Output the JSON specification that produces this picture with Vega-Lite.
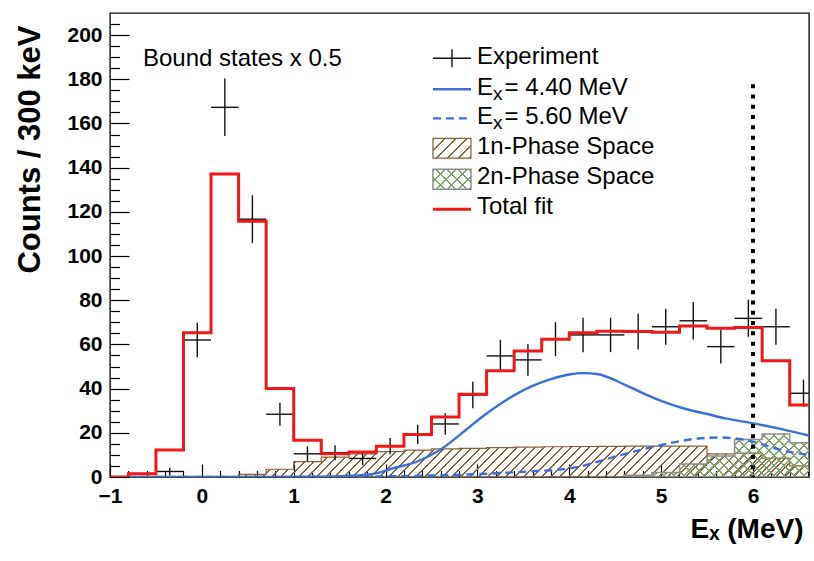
{
  "$schema": "https://vega.github.io/schema/vega-lite/v6.json",
  "width": 699,
  "height": 464,
  "autosize": {"type": "none"},
  "padding": {"left": 110, "top": 13, "right": 5, "bottom": 84},
  "background": "#ffffff",
  "config": {
    "font": "Liberation Sans",
    "view": {"stroke": "#111111", "strokeWidth": 1.4},
    "axis": {"grid": false, "domain": false, "labelColor": "#000000", "tickColor": "#000000", "titleColor": "#000000", "tickWidth": 1.2},
    "text": {"font": "Liberation Sans", "fontSize": 24, "color": "#000000", "align": "left", "baseline": "alphabetic"}
  },
  "datasets": {
    "fit": [
      {"e": -1.1, "n": 0}, {"e": -0.8, "n": 1.5}, {"e": -0.5, "n": 12.2}, {"e": -0.2, "n": 65.3},
      {"e": 0.1, "n": 137.1}, {"e": 0.4, "n": 115.8}, {"e": 0.7, "n": 40.1}, {"e": 1.0, "n": 16.6},
      {"e": 1.3, "n": 10.5}, {"e": 1.6, "n": 11.3}, {"e": 1.9, "n": 13.9}, {"e": 2.2, "n": 19.2},
      {"e": 2.5, "n": 27.1}, {"e": 2.8, "n": 37.4}, {"e": 3.1, "n": 48.1}, {"e": 3.4, "n": 57.0},
      {"e": 3.7, "n": 62.3}, {"e": 4.0, "n": 65.3}, {"e": 4.3, "n": 66.0}, {"e": 4.6, "n": 65.8},
      {"e": 4.9, "n": 65.5}, {"e": 5.2, "n": 68.3}, {"e": 5.5, "n": 67.3}, {"e": 5.8, "n": 67.7},
      {"e": 6.1, "n": 52.6}, {"e": 6.4, "n": 32.6}, {"e": 6.7, "n": 32.6}
    ],
    "ps1": [
      {"e": 0.4, "n": 1.2}, {"e": 0.7, "n": 3.5}, {"e": 1.0, "n": 7.0}, {"e": 1.3, "n": 9.0},
      {"e": 1.6, "n": 10.5}, {"e": 1.9, "n": 11.5}, {"e": 2.2, "n": 12.2}, {"e": 2.5, "n": 12.7},
      {"e": 2.8, "n": 13.0}, {"e": 3.1, "n": 13.3}, {"e": 3.4, "n": 13.5}, {"e": 3.7, "n": 13.7},
      {"e": 4.0, "n": 13.8}, {"e": 4.3, "n": 13.9}, {"e": 4.6, "n": 14.0}, {"e": 4.9, "n": 14.0},
      {"e": 5.2, "n": 14.0}, {"e": 5.5, "n": 10.5}, {"e": 5.8, "n": 10.8}, {"e": 6.1, "n": 8.5},
      {"e": 6.4, "n": 5.0}, {"e": 6.7, "n": 5.0}
    ],
    "ps2": [
      {"e": 4.6, "n": 0.8}, {"e": 4.9, "n": 2.0}, {"e": 5.2, "n": 5.9}, {"e": 5.5, "n": 9.5},
      {"e": 5.8, "n": 17.0}, {"e": 6.1, "n": 19.5}, {"e": 6.4, "n": 15.5}, {"e": 6.7, "n": 15.5}
    ],
    "res440": [
      {"e": -0.8, "n": 0}, {"e": 0.2, "n": 0.01}, {"e": 0.8, "n": 0.05}, {"e": 1.2, "n": 0.15},
      {"e": 1.5, "n": 0.4}, {"e": 1.8, "n": 1.0}, {"e": 1.95, "n": 2.2}, {"e": 2.08, "n": 3.9},
      {"e": 2.34, "n": 6.9}, {"e": 2.59, "n": 12.2}, {"e": 2.88, "n": 21.5}, {"e": 3.06, "n": 27.5},
      {"e": 3.32, "n": 35.0}, {"e": 3.57, "n": 40.7}, {"e": 3.8, "n": 44.3}, {"e": 4.0, "n": 46.4},
      {"e": 4.15, "n": 47.0}, {"e": 4.3, "n": 46.6}, {"e": 4.62, "n": 41.5}, {"e": 4.8, "n": 38.0},
      {"e": 5.0, "n": 34.5}, {"e": 5.25, "n": 31.0}, {"e": 5.5, "n": 28.5}, {"e": 5.7, "n": 26.5},
      {"e": 6.0, "n": 24.3}, {"e": 6.3, "n": 21.8}, {"e": 6.61, "n": 18.8}
    ],
    "res560": [
      {"e": -0.8, "n": 0}, {"e": 0.5, "n": 0.01}, {"e": 1.5, "n": 0.05}, {"e": 2.0, "n": 0.3},
      {"e": 2.5, "n": 0.7}, {"e": 3.0, "n": 1.3}, {"e": 3.25, "n": 1.8}, {"e": 3.6, "n": 2.6},
      {"e": 3.9, "n": 3.4}, {"e": 4.1, "n": 4.6}, {"e": 4.3, "n": 6.8}, {"e": 4.48, "n": 9.0},
      {"e": 4.77, "n": 12.2}, {"e": 5.06, "n": 15.0}, {"e": 5.24, "n": 16.5}, {"e": 5.5, "n": 17.7},
      {"e": 5.65, "n": 17.9}, {"e": 5.85, "n": 17.2}, {"e": 6.0, "n": 16.0}, {"e": 6.15, "n": 14.2},
      {"e": 6.29, "n": 12.4}, {"e": 6.45, "n": 11.0}, {"e": 6.61, "n": 10.0}
    ],
    "exp": [
      {"e": -0.35, "lo_e": -0.5, "hi_e": -0.2, "n": 2.5, "err": 1.7},
      {"e": -0.05, "lo_e": -0.2, "hi_e": 0.1, "n": 62.0, "err": 7.8},
      {"e": 0.25, "lo_e": 0.1, "hi_e": 0.4, "n": 167.3, "err": 13.0},
      {"e": 0.55, "lo_e": 0.4, "hi_e": 0.7, "n": 116.7, "err": 10.8},
      {"e": 0.85, "lo_e": 0.7, "hi_e": 1.0, "n": 28.4, "err": 5.2},
      {"e": 1.15, "lo_e": 1.0, "hi_e": 1.3, "n": 10.5, "err": 3.4},
      {"e": 1.45, "lo_e": 1.3, "hi_e": 1.6, "n": 11.0, "err": 3.4},
      {"e": 1.75, "lo_e": 1.6, "hi_e": 1.9, "n": 8.4, "err": 3.0},
      {"e": 2.05, "lo_e": 1.9, "hi_e": 2.2, "n": 14.0, "err": 3.7},
      {"e": 2.35, "lo_e": 2.2, "hi_e": 2.5, "n": 19.3, "err": 4.4},
      {"e": 2.65, "lo_e": 2.5, "hi_e": 2.8, "n": 24.0, "err": 4.9},
      {"e": 2.95, "lo_e": 2.8, "hi_e": 3.1, "n": 37.1, "err": 6.0},
      {"e": 3.25, "lo_e": 3.1, "hi_e": 3.4, "n": 54.8, "err": 7.3},
      {"e": 3.55, "lo_e": 3.4, "hi_e": 3.7, "n": 53.0, "err": 7.2},
      {"e": 3.85, "lo_e": 3.7, "hi_e": 4.0, "n": 62.4, "err": 7.7},
      {"e": 4.15, "lo_e": 4.0, "hi_e": 4.3, "n": 64.3, "err": 7.8},
      {"e": 4.45, "lo_e": 4.3, "hi_e": 4.6, "n": 64.3, "err": 7.8},
      {"e": 4.75, "lo_e": 4.6, "hi_e": 4.9, "n": 65.8, "err": 8.1},
      {"e": 5.05, "lo_e": 4.9, "hi_e": 5.2, "n": 68.0, "err": 8.2},
      {"e": 5.35, "lo_e": 5.2, "hi_e": 5.5, "n": 70.7, "err": 8.5},
      {"e": 5.65, "lo_e": 5.5, "hi_e": 5.8, "n": 59.0, "err": 7.6},
      {"e": 5.95, "lo_e": 5.8, "hi_e": 6.1, "n": 71.8, "err": 8.4},
      {"e": 6.25, "lo_e": 6.1, "hi_e": 6.4, "n": 68.0, "err": 8.2},
      {"e": 6.55, "lo_e": 6.4, "hi_e": 6.7, "n": 37.9, "err": 6.2}
    ]
  },
  "resolve": {"axis": {"x": "independent", "y": "independent"}},
  "layer": [
    {
      "data": {"name": "ps1"},
      "mark": {
        "type": "area", "interpolate": "step-after", "clip": true, "fillOpacity": 1,
        "stroke": "#8a6038", "strokeWidth": 1.2,
        "fill": {
          "gradient": "linear", "x1": 0, "y1": 0, "x2": 1.2406, "y2": 0.0663,
          "stops": [
            {"offset": 0, "color": "#8a6038"}, {"offset": 0.003, "color": "#8a6038"}, {"offset": 0.003, "color": "transparent"},
            {"offset": 0.0125, "color": "transparent"}, {"offset": 0.0125, "color": "#8a6038"}, {"offset": 0.0155, "color": "#8a6038"}, {"offset": 0.0155, "color": "transparent"},
            {"offset": 0.025, "color": "transparent"}, {"offset": 0.025, "color": "#8a6038"}, {"offset": 0.028, "color": "#8a6038"}, {"offset": 0.028, "color": "transparent"},
            {"offset": 0.0375, "color": "transparent"}, {"offset": 0.0375, "color": "#8a6038"}, {"offset": 0.0405, "color": "#8a6038"}, {"offset": 0.0405, "color": "transparent"},
            {"offset": 0.05, "color": "transparent"}, {"offset": 0.05, "color": "#8a6038"}, {"offset": 0.053, "color": "#8a6038"}, {"offset": 0.053, "color": "transparent"},
            {"offset": 0.0625, "color": "transparent"}, {"offset": 0.0625, "color": "#8a6038"}, {"offset": 0.0655, "color": "#8a6038"}, {"offset": 0.0655, "color": "transparent"},
            {"offset": 0.075, "color": "transparent"}, {"offset": 0.075, "color": "#8a6038"}, {"offset": 0.078, "color": "#8a6038"}, {"offset": 0.078, "color": "transparent"},
            {"offset": 0.0875, "color": "transparent"}, {"offset": 0.0875, "color": "#8a6038"}, {"offset": 0.0905, "color": "#8a6038"}, {"offset": 0.0905, "color": "transparent"},
            {"offset": 0.1, "color": "transparent"}, {"offset": 0.1, "color": "#8a6038"}, {"offset": 0.103, "color": "#8a6038"}, {"offset": 0.103, "color": "transparent"},
            {"offset": 0.1125, "color": "transparent"}, {"offset": 0.1125, "color": "#8a6038"}, {"offset": 0.1155, "color": "#8a6038"}, {"offset": 0.1155, "color": "transparent"},
            {"offset": 0.125, "color": "transparent"}, {"offset": 0.125, "color": "#8a6038"}, {"offset": 0.128, "color": "#8a6038"}, {"offset": 0.128, "color": "transparent"},
            {"offset": 0.1375, "color": "transparent"}, {"offset": 0.1375, "color": "#8a6038"}, {"offset": 0.1405, "color": "#8a6038"}, {"offset": 0.1405, "color": "transparent"},
            {"offset": 0.15, "color": "transparent"}, {"offset": 0.15, "color": "#8a6038"}, {"offset": 0.153, "color": "#8a6038"}, {"offset": 0.153, "color": "transparent"},
            {"offset": 0.1625, "color": "transparent"}, {"offset": 0.1625, "color": "#8a6038"}, {"offset": 0.1655, "color": "#8a6038"}, {"offset": 0.1655, "color": "transparent"},
            {"offset": 0.175, "color": "transparent"}, {"offset": 0.175, "color": "#8a6038"}, {"offset": 0.178, "color": "#8a6038"}, {"offset": 0.178, "color": "transparent"},
            {"offset": 0.1875, "color": "transparent"}, {"offset": 0.1875, "color": "#8a6038"}, {"offset": 0.1905, "color": "#8a6038"}, {"offset": 0.1905, "color": "transparent"},
            {"offset": 0.2, "color": "transparent"}, {"offset": 0.2, "color": "#8a6038"}, {"offset": 0.203, "color": "#8a6038"}, {"offset": 0.203, "color": "transparent"},
            {"offset": 0.2125, "color": "transparent"}, {"offset": 0.2125, "color": "#8a6038"}, {"offset": 0.2155, "color": "#8a6038"}, {"offset": 0.2155, "color": "transparent"},
            {"offset": 0.225, "color": "transparent"}, {"offset": 0.225, "color": "#8a6038"}, {"offset": 0.228, "color": "#8a6038"}, {"offset": 0.228, "color": "transparent"},
            {"offset": 0.2375, "color": "transparent"}, {"offset": 0.2375, "color": "#8a6038"}, {"offset": 0.2405, "color": "#8a6038"}, {"offset": 0.2405, "color": "transparent"},
            {"offset": 0.25, "color": "transparent"}, {"offset": 0.25, "color": "#8a6038"}, {"offset": 0.253, "color": "#8a6038"}, {"offset": 0.253, "color": "transparent"},
            {"offset": 0.2625, "color": "transparent"}, {"offset": 0.2625, "color": "#8a6038"}, {"offset": 0.2655, "color": "#8a6038"}, {"offset": 0.2655, "color": "transparent"},
            {"offset": 0.275, "color": "transparent"}, {"offset": 0.275, "color": "#8a6038"}, {"offset": 0.278, "color": "#8a6038"}, {"offset": 0.278, "color": "transparent"},
            {"offset": 0.2875, "color": "transparent"}, {"offset": 0.2875, "color": "#8a6038"}, {"offset": 0.2905, "color": "#8a6038"}, {"offset": 0.2905, "color": "transparent"},
            {"offset": 0.3, "color": "transparent"}, {"offset": 0.3, "color": "#8a6038"}, {"offset": 0.303, "color": "#8a6038"}, {"offset": 0.303, "color": "transparent"},
            {"offset": 0.3125, "color": "transparent"}, {"offset": 0.3125, "color": "#8a6038"}, {"offset": 0.3155, "color": "#8a6038"}, {"offset": 0.3155, "color": "transparent"},
            {"offset": 0.325, "color": "transparent"}, {"offset": 0.325, "color": "#8a6038"}, {"offset": 0.328, "color": "#8a6038"}, {"offset": 0.328, "color": "transparent"},
            {"offset": 0.3375, "color": "transparent"}, {"offset": 0.3375, "color": "#8a6038"}, {"offset": 0.3405, "color": "#8a6038"}, {"offset": 0.3405, "color": "transparent"},
            {"offset": 0.35, "color": "transparent"}, {"offset": 0.35, "color": "#8a6038"}, {"offset": 0.353, "color": "#8a6038"}, {"offset": 0.353, "color": "transparent"},
            {"offset": 0.3625, "color": "transparent"}, {"offset": 0.3625, "color": "#8a6038"}, {"offset": 0.3655, "color": "#8a6038"}, {"offset": 0.3655, "color": "transparent"},
            {"offset": 0.375, "color": "transparent"}, {"offset": 0.375, "color": "#8a6038"}, {"offset": 0.378, "color": "#8a6038"}, {"offset": 0.378, "color": "transparent"},
            {"offset": 0.3875, "color": "transparent"}, {"offset": 0.3875, "color": "#8a6038"}, {"offset": 0.3905, "color": "#8a6038"}, {"offset": 0.3905, "color": "transparent"},
            {"offset": 0.4, "color": "transparent"}, {"offset": 0.4, "color": "#8a6038"}, {"offset": 0.403, "color": "#8a6038"}, {"offset": 0.403, "color": "transparent"},
            {"offset": 0.4125, "color": "transparent"}, {"offset": 0.4125, "color": "#8a6038"}, {"offset": 0.4155, "color": "#8a6038"}, {"offset": 0.4155, "color": "transparent"},
            {"offset": 0.425, "color": "transparent"}, {"offset": 0.425, "color": "#8a6038"}, {"offset": 0.428, "color": "#8a6038"}, {"offset": 0.428, "color": "transparent"},
            {"offset": 0.4375, "color": "transparent"}, {"offset": 0.4375, "color": "#8a6038"}, {"offset": 0.4405, "color": "#8a6038"}, {"offset": 0.4405, "color": "transparent"},
            {"offset": 0.45, "color": "transparent"}, {"offset": 0.45, "color": "#8a6038"}, {"offset": 0.453, "color": "#8a6038"}, {"offset": 0.453, "color": "transparent"},
            {"offset": 0.4625, "color": "transparent"}, {"offset": 0.4625, "color": "#8a6038"}, {"offset": 0.4655, "color": "#8a6038"}, {"offset": 0.4655, "color": "transparent"},
            {"offset": 0.475, "color": "transparent"}, {"offset": 0.475, "color": "#8a6038"}, {"offset": 0.478, "color": "#8a6038"}, {"offset": 0.478, "color": "transparent"},
            {"offset": 0.4875, "color": "transparent"}, {"offset": 0.4875, "color": "#8a6038"}, {"offset": 0.4905, "color": "#8a6038"}, {"offset": 0.4905, "color": "transparent"},
            {"offset": 0.5, "color": "transparent"}, {"offset": 0.5, "color": "#8a6038"}, {"offset": 0.503, "color": "#8a6038"}, {"offset": 0.503, "color": "transparent"},
            {"offset": 0.5125, "color": "transparent"}, {"offset": 0.5125, "color": "#8a6038"}, {"offset": 0.5155, "color": "#8a6038"}, {"offset": 0.5155, "color": "transparent"},
            {"offset": 0.525, "color": "transparent"}, {"offset": 0.525, "color": "#8a6038"}, {"offset": 0.528, "color": "#8a6038"}, {"offset": 0.528, "color": "transparent"},
            {"offset": 0.5375, "color": "transparent"}, {"offset": 0.5375, "color": "#8a6038"}, {"offset": 0.5405, "color": "#8a6038"}, {"offset": 0.5405, "color": "transparent"},
            {"offset": 0.55, "color": "transparent"}, {"offset": 0.55, "color": "#8a6038"}, {"offset": 0.553, "color": "#8a6038"}, {"offset": 0.553, "color": "transparent"},
            {"offset": 0.5625, "color": "transparent"}, {"offset": 0.5625, "color": "#8a6038"}, {"offset": 0.5655, "color": "#8a6038"}, {"offset": 0.5655, "color": "transparent"},
            {"offset": 0.575, "color": "transparent"}, {"offset": 0.575, "color": "#8a6038"}, {"offset": 0.578, "color": "#8a6038"}, {"offset": 0.578, "color": "transparent"},
            {"offset": 0.5875, "color": "transparent"}, {"offset": 0.5875, "color": "#8a6038"}, {"offset": 0.5905, "color": "#8a6038"}, {"offset": 0.5905, "color": "transparent"},
            {"offset": 0.6, "color": "transparent"}, {"offset": 0.6, "color": "#8a6038"}, {"offset": 0.603, "color": "#8a6038"}, {"offset": 0.603, "color": "transparent"},
            {"offset": 0.6125, "color": "transparent"}, {"offset": 0.6125, "color": "#8a6038"}, {"offset": 0.6155, "color": "#8a6038"}, {"offset": 0.6155, "color": "transparent"},
            {"offset": 0.625, "color": "transparent"}, {"offset": 0.625, "color": "#8a6038"}, {"offset": 0.628, "color": "#8a6038"}, {"offset": 0.628, "color": "transparent"},
            {"offset": 0.6375, "color": "transparent"}, {"offset": 0.6375, "color": "#8a6038"}, {"offset": 0.6405, "color": "#8a6038"}, {"offset": 0.6405, "color": "transparent"},
            {"offset": 0.65, "color": "transparent"}, {"offset": 0.65, "color": "#8a6038"}, {"offset": 0.653, "color": "#8a6038"}, {"offset": 0.653, "color": "transparent"},
            {"offset": 0.6625, "color": "transparent"}, {"offset": 0.6625, "color": "#8a6038"}, {"offset": 0.6655, "color": "#8a6038"}, {"offset": 0.6655, "color": "transparent"},
            {"offset": 0.675, "color": "transparent"}, {"offset": 0.675, "color": "#8a6038"}, {"offset": 0.678, "color": "#8a6038"}, {"offset": 0.678, "color": "transparent"},
            {"offset": 0.6875, "color": "transparent"}, {"offset": 0.6875, "color": "#8a6038"}, {"offset": 0.6905, "color": "#8a6038"}, {"offset": 0.6905, "color": "transparent"},
            {"offset": 0.7, "color": "transparent"}, {"offset": 0.7, "color": "#8a6038"}, {"offset": 0.703, "color": "#8a6038"}, {"offset": 0.703, "color": "transparent"},
            {"offset": 0.7125, "color": "transparent"}, {"offset": 0.7125, "color": "#8a6038"}, {"offset": 0.7155, "color": "#8a6038"}, {"offset": 0.7155, "color": "transparent"},
            {"offset": 0.725, "color": "transparent"}, {"offset": 0.725, "color": "#8a6038"}, {"offset": 0.728, "color": "#8a6038"}, {"offset": 0.728, "color": "transparent"},
            {"offset": 0.7375, "color": "transparent"}, {"offset": 0.7375, "color": "#8a6038"}, {"offset": 0.7405, "color": "#8a6038"}, {"offset": 0.7405, "color": "transparent"},
            {"offset": 0.75, "color": "transparent"}, {"offset": 0.75, "color": "#8a6038"}, {"offset": 0.753, "color": "#8a6038"}, {"offset": 0.753, "color": "transparent"},
            {"offset": 0.7625, "color": "transparent"}, {"offset": 0.7625, "color": "#8a6038"}, {"offset": 0.7655, "color": "#8a6038"}, {"offset": 0.7655, "color": "transparent"},
            {"offset": 0.775, "color": "transparent"}, {"offset": 0.775, "color": "#8a6038"}, {"offset": 0.778, "color": "#8a6038"}, {"offset": 0.778, "color": "transparent"},
            {"offset": 0.7875, "color": "transparent"}, {"offset": 0.7875, "color": "#8a6038"}, {"offset": 0.7905, "color": "#8a6038"}, {"offset": 0.7905, "color": "transparent"},
            {"offset": 0.8, "color": "transparent"}, {"offset": 0.8, "color": "#8a6038"}, {"offset": 0.803, "color": "#8a6038"}, {"offset": 0.803, "color": "transparent"},
            {"offset": 0.8125, "color": "transparent"}, {"offset": 0.8125, "color": "#8a6038"}, {"offset": 0.8155, "color": "#8a6038"}, {"offset": 0.8155, "color": "transparent"},
            {"offset": 0.825, "color": "transparent"}, {"offset": 0.825, "color": "#8a6038"}, {"offset": 0.828, "color": "#8a6038"}, {"offset": 0.828, "color": "transparent"},
            {"offset": 0.8375, "color": "transparent"}, {"offset": 0.8375, "color": "#8a6038"}, {"offset": 0.8405, "color": "#8a6038"}, {"offset": 0.8405, "color": "transparent"},
            {"offset": 0.85, "color": "transparent"}, {"offset": 0.85, "color": "#8a6038"}, {"offset": 0.853, "color": "#8a6038"}, {"offset": 0.853, "color": "transparent"},
            {"offset": 1, "color": "transparent"}
          ]
        }
      },
      "encoding": {
        "x": {
          "field": "e", "type": "quantitative",
          "scale": {"domain": [-1, 6.61], "nice": false, "zero": false},
          "axis": {
            "orient": "bottom", "values": [-1, 0, 1, 2, 3, 4, 5, 6], "ticks": false,
            "labelFontSize": 21, "labelFontWeight": "bold", "labelPadding": 8, "labelFlush": false,
            "labelOverlap": false, "labelBaseline": "top",
            "title": "Eₓ (MeV)", "titleFontSize": 28, "titleFontWeight": "bold",
            "titleAlign": "right", "titleAnchor": "end", "titleBaseline": "alphabetic",
            "titleX": 693, "titleY": 60
          }
        },
        "y": {
          "field": "n", "type": "quantitative",
          "scale": {"domain": [0, 210], "nice": false, "zero": false},
          "axis": {
            "orient": "left", "values": [0, 20, 40, 60, 80, 100, 120, 140, 160, 180, 200], "ticks": false,
            "labelFontSize": 21, "labelFontWeight": "bold", "labelPadding": 8, "labelOverlap": false,
            "title": "Counts / 300 keV", "titleFontSize": 31, "titleFontWeight": "bold",
            "titleAngle": -90, "titleAlign": "right", "titleAnchor": "end", "titleBaseline": "alphabetic",
            "titleX": -71, "titleY": 12
          }
        }
      }
    },
    {
      "data": {"name": "ps2"},
      "mark": {
        "type": "area", "interpolate": "step-after", "clip": true, "fillOpacity": 1,
        "fill": {
          "gradient": "linear", "x1": 0, "y1": 0, "x2": 1.2344, "y2": 0.2757,
          "stops": [
            {"offset": 0, "color": "#7da36a"}, {"offset": 0.009, "color": "#7da36a"}, {"offset": 0.009, "color": "transparent"},
            {"offset": 0.04, "color": "transparent"}, {"offset": 0.04, "color": "#7da36a"}, {"offset": 0.049, "color": "#7da36a"}, {"offset": 0.049, "color": "transparent"},
            {"offset": 0.08, "color": "transparent"}, {"offset": 0.08, "color": "#7da36a"}, {"offset": 0.089, "color": "#7da36a"}, {"offset": 0.089, "color": "transparent"},
            {"offset": 0.12, "color": "transparent"}, {"offset": 0.12, "color": "#7da36a"}, {"offset": 0.129, "color": "#7da36a"}, {"offset": 0.129, "color": "transparent"},
            {"offset": 0.16, "color": "transparent"}, {"offset": 0.16, "color": "#7da36a"}, {"offset": 0.169, "color": "#7da36a"}, {"offset": 0.169, "color": "transparent"},
            {"offset": 0.2, "color": "transparent"}, {"offset": 0.2, "color": "#7da36a"}, {"offset": 0.209, "color": "#7da36a"}, {"offset": 0.209, "color": "transparent"},
            {"offset": 0.24, "color": "transparent"}, {"offset": 0.24, "color": "#7da36a"}, {"offset": 0.249, "color": "#7da36a"}, {"offset": 0.249, "color": "transparent"},
            {"offset": 0.28, "color": "transparent"}, {"offset": 0.28, "color": "#7da36a"}, {"offset": 0.289, "color": "#7da36a"}, {"offset": 0.289, "color": "transparent"},
            {"offset": 0.32, "color": "transparent"}, {"offset": 0.32, "color": "#7da36a"}, {"offset": 0.329, "color": "#7da36a"}, {"offset": 0.329, "color": "transparent"},
            {"offset": 0.36, "color": "transparent"}, {"offset": 0.36, "color": "#7da36a"}, {"offset": 0.369, "color": "#7da36a"}, {"offset": 0.369, "color": "transparent"},
            {"offset": 0.4, "color": "transparent"}, {"offset": 0.4, "color": "#7da36a"}, {"offset": 0.409, "color": "#7da36a"}, {"offset": 0.409, "color": "transparent"},
            {"offset": 0.44, "color": "transparent"}, {"offset": 0.44, "color": "#7da36a"}, {"offset": 0.449, "color": "#7da36a"}, {"offset": 0.449, "color": "transparent"},
            {"offset": 0.48, "color": "transparent"}, {"offset": 0.48, "color": "#7da36a"}, {"offset": 0.489, "color": "#7da36a"}, {"offset": 0.489, "color": "transparent"},
            {"offset": 0.52, "color": "transparent"}, {"offset": 0.52, "color": "#7da36a"}, {"offset": 0.529, "color": "#7da36a"}, {"offset": 0.529, "color": "transparent"},
            {"offset": 0.56, "color": "transparent"}, {"offset": 0.56, "color": "#7da36a"}, {"offset": 0.569, "color": "#7da36a"}, {"offset": 0.569, "color": "transparent"},
            {"offset": 0.6, "color": "transparent"}, {"offset": 0.6, "color": "#7da36a"}, {"offset": 0.609, "color": "#7da36a"}, {"offset": 0.609, "color": "transparent"},
            {"offset": 0.64, "color": "transparent"}, {"offset": 0.64, "color": "#7da36a"}, {"offset": 0.649, "color": "#7da36a"}, {"offset": 0.649, "color": "transparent"},
            {"offset": 0.68, "color": "transparent"}, {"offset": 0.68, "color": "#7da36a"}, {"offset": 0.689, "color": "#7da36a"}, {"offset": 0.689, "color": "transparent"},
            {"offset": 0.72, "color": "transparent"}, {"offset": 0.72, "color": "#7da36a"}, {"offset": 0.729, "color": "#7da36a"}, {"offset": 0.729, "color": "transparent"},
            {"offset": 0.76, "color": "transparent"}, {"offset": 0.76, "color": "#7da36a"}, {"offset": 0.769, "color": "#7da36a"}, {"offset": 0.769, "color": "transparent"},
            {"offset": 0.8, "color": "transparent"}, {"offset": 0.8, "color": "#7da36a"}, {"offset": 0.809, "color": "#7da36a"}, {"offset": 0.809, "color": "transparent"},
            {"offset": 0.84, "color": "transparent"}, {"offset": 0.84, "color": "#7da36a"}, {"offset": 0.849, "color": "#7da36a"}, {"offset": 0.849, "color": "transparent"},
            {"offset": 0.88, "color": "transparent"}, {"offset": 0.88, "color": "#7da36a"}, {"offset": 0.889, "color": "#7da36a"}, {"offset": 0.889, "color": "transparent"},
            {"offset": 0.92, "color": "transparent"}, {"offset": 0.92, "color": "#7da36a"}, {"offset": 0.929, "color": "#7da36a"}, {"offset": 0.929, "color": "transparent"},
            {"offset": 1, "color": "transparent"}
          ]
        }
      },
      "encoding": {
        "x": {
          "field": "e", "type": "quantitative",
          "axis": {"orient": "bottom", "values": [-1, 0, 1, 2, 3, 4, 5, 6], "labels": false, "ticks": true, "tickSize": -13, "title": null}
        },
        "y": {
          "field": "n", "type": "quantitative",
          "axis": {"orient": "left", "values": [0, 20, 40, 60, 80, 100, 120, 140, 160, 180, 200], "labels": false, "ticks": true, "tickSize": -19, "title": null}
        }
      }
    },
    {
      "data": {"name": "ps2"},
      "mark": {
        "type": "area", "interpolate": "step-after", "clip": true, "fillOpacity": 1,
        "stroke": "#8c8c8c", "strokeWidth": 1.5,
        "fill": {
          "gradient": "linear", "x1": 0, "y1": 1, "x2": 1.2344, "y2": 0.7243,
          "stops": [
            {"offset": 0, "color": "#7da36a"}, {"offset": 0.009, "color": "#7da36a"}, {"offset": 0.009, "color": "transparent"},
            {"offset": 0.04, "color": "transparent"}, {"offset": 0.04, "color": "#7da36a"}, {"offset": 0.049, "color": "#7da36a"}, {"offset": 0.049, "color": "transparent"},
            {"offset": 0.08, "color": "transparent"}, {"offset": 0.08, "color": "#7da36a"}, {"offset": 0.089, "color": "#7da36a"}, {"offset": 0.089, "color": "transparent"},
            {"offset": 0.12, "color": "transparent"}, {"offset": 0.12, "color": "#7da36a"}, {"offset": 0.129, "color": "#7da36a"}, {"offset": 0.129, "color": "transparent"},
            {"offset": 0.16, "color": "transparent"}, {"offset": 0.16, "color": "#7da36a"}, {"offset": 0.169, "color": "#7da36a"}, {"offset": 0.169, "color": "transparent"},
            {"offset": 0.2, "color": "transparent"}, {"offset": 0.2, "color": "#7da36a"}, {"offset": 0.209, "color": "#7da36a"}, {"offset": 0.209, "color": "transparent"},
            {"offset": 0.24, "color": "transparent"}, {"offset": 0.24, "color": "#7da36a"}, {"offset": 0.249, "color": "#7da36a"}, {"offset": 0.249, "color": "transparent"},
            {"offset": 0.28, "color": "transparent"}, {"offset": 0.28, "color": "#7da36a"}, {"offset": 0.289, "color": "#7da36a"}, {"offset": 0.289, "color": "transparent"},
            {"offset": 0.32, "color": "transparent"}, {"offset": 0.32, "color": "#7da36a"}, {"offset": 0.329, "color": "#7da36a"}, {"offset": 0.329, "color": "transparent"},
            {"offset": 0.36, "color": "transparent"}, {"offset": 0.36, "color": "#7da36a"}, {"offset": 0.369, "color": "#7da36a"}, {"offset": 0.369, "color": "transparent"},
            {"offset": 0.4, "color": "transparent"}, {"offset": 0.4, "color": "#7da36a"}, {"offset": 0.409, "color": "#7da36a"}, {"offset": 0.409, "color": "transparent"},
            {"offset": 0.44, "color": "transparent"}, {"offset": 0.44, "color": "#7da36a"}, {"offset": 0.449, "color": "#7da36a"}, {"offset": 0.449, "color": "transparent"},
            {"offset": 0.48, "color": "transparent"}, {"offset": 0.48, "color": "#7da36a"}, {"offset": 0.489, "color": "#7da36a"}, {"offset": 0.489, "color": "transparent"},
            {"offset": 0.52, "color": "transparent"}, {"offset": 0.52, "color": "#7da36a"}, {"offset": 0.529, "color": "#7da36a"}, {"offset": 0.529, "color": "transparent"},
            {"offset": 0.56, "color": "transparent"}, {"offset": 0.56, "color": "#7da36a"}, {"offset": 0.569, "color": "#7da36a"}, {"offset": 0.569, "color": "transparent"},
            {"offset": 0.6, "color": "transparent"}, {"offset": 0.6, "color": "#7da36a"}, {"offset": 0.609, "color": "#7da36a"}, {"offset": 0.609, "color": "transparent"},
            {"offset": 0.64, "color": "transparent"}, {"offset": 0.64, "color": "#7da36a"}, {"offset": 0.649, "color": "#7da36a"}, {"offset": 0.649, "color": "transparent"},
            {"offset": 0.68, "color": "transparent"}, {"offset": 0.68, "color": "#7da36a"}, {"offset": 0.689, "color": "#7da36a"}, {"offset": 0.689, "color": "transparent"},
            {"offset": 0.72, "color": "transparent"}, {"offset": 0.72, "color": "#7da36a"}, {"offset": 0.729, "color": "#7da36a"}, {"offset": 0.729, "color": "transparent"},
            {"offset": 0.76, "color": "transparent"}, {"offset": 0.76, "color": "#7da36a"}, {"offset": 0.769, "color": "#7da36a"}, {"offset": 0.769, "color": "transparent"},
            {"offset": 0.8, "color": "transparent"}, {"offset": 0.8, "color": "#7da36a"}, {"offset": 0.809, "color": "#7da36a"}, {"offset": 0.809, "color": "transparent"},
            {"offset": 0.84, "color": "transparent"}, {"offset": 0.84, "color": "#7da36a"}, {"offset": 0.849, "color": "#7da36a"}, {"offset": 0.849, "color": "transparent"},
            {"offset": 0.88, "color": "transparent"}, {"offset": 0.88, "color": "#7da36a"}, {"offset": 0.889, "color": "#7da36a"}, {"offset": 0.889, "color": "transparent"},
            {"offset": 0.92, "color": "transparent"}, {"offset": 0.92, "color": "#7da36a"}, {"offset": 0.929, "color": "#7da36a"}, {"offset": 0.929, "color": "transparent"},
            {"offset": 1, "color": "transparent"}
          ]
        }
      },
      "encoding": {
        "x": {
          "field": "e", "type": "quantitative",
          "axis": {"orient": "bottom", "values": [-0.8, -0.6, -0.4, -0.2, 0.2, 0.4, 0.6, 0.8, 1.2, 1.4, 1.6, 1.8, 2.2, 2.4, 2.6, 2.8, 3.2, 3.4, 3.6, 3.8, 4.2, 4.4, 4.6, 4.8, 5.2, 5.4, 5.6, 5.8, 6.2, 6.4, 6.6], "labels": false, "ticks": true, "tickSize": -6.5, "title": null}
        },
        "y": {
          "field": "n", "type": "quantitative",
          "axis": {"orient": "left", "values": [5, 10, 15, 25, 30, 35, 45, 50, 55, 65, 70, 75, 85, 90, 95, 105, 110, 115, 125, 130, 135, 145, 150, 155, 165, 170, 175, 185, 190, 195, 205], "labels": false, "ticks": true, "tickSize": -9.5, "title": null}
        }
      }
    },
    {
      "data": {"name": "res440"},
      "mark": {"type": "line", "interpolate": "monotone", "color": "#3c6fd6", "strokeWidth": 2.4, "clip": true},
      "encoding": {
        "x": {"field": "e", "type": "quantitative", "axis": null},
        "y": {"field": "n", "type": "quantitative", "axis": null}
      }
    },
    {
      "data": {"name": "res560"},
      "mark": {"type": "line", "interpolate": "monotone", "color": "#3c6fd6", "strokeWidth": 2.4, "strokeDash": [8, 5], "clip": true},
      "encoding": {
        "x": {"field": "e", "type": "quantitative", "axis": null},
        "y": {"field": "n", "type": "quantitative", "axis": null}
      }
    },
    {
      "data": {"name": "exp"},
      "mark": {"type": "rule", "color": "#111111", "strokeWidth": 1.4, "clip": true},
      "encoding": {
        "x": {"field": "lo_e", "type": "quantitative", "axis": null},
        "x2": {"field": "hi_e"},
        "y": {"field": "n", "type": "quantitative", "axis": null}
      }
    },
    {
      "data": {"name": "exp"},
      "mark": {"type": "errorbar", "ticks": false, "color": "#111111", "thickness": 1.4},
      "encoding": {
        "x": {"field": "e", "type": "quantitative", "axis": null},
        "y": {"field": "n", "type": "quantitative", "axis": null},
        "yError": {"field": "err"}
      }
    },
    {
      "data": {"name": "fit"},
      "mark": {"type": "line", "interpolate": "step-after", "color": "#f01818", "strokeWidth": 3, "clip": true},
      "encoding": {
        "x": {"field": "e", "type": "quantitative", "axis": null},
        "y": {"field": "n", "type": "quantitative", "axis": null}
      }
    },
    {
      "data": {"values": [{}]},
      "mark": {"type": "rule", "color": "#000000", "strokeWidth": 4, "strokeDash": [4, 6.3]},
      "encoding": {
        "x": {"datum": 6, "type": "quantitative", "axis": null},
        "y": {"datum": 177.8, "type": "quantitative", "axis": null},
        "y2": {"datum": 0}
      }
    },
    {
      "data": {"values": [{}]},
      "mark": {"type": "text", "text": "Bound states x 0.5"},
      "encoding": {
        "x": {"datum": -0.641, "type": "quantitative", "axis": null},
        "y": {"datum": 186.1, "type": "quantitative", "axis": null}
      }
    },
    {
      "data": {"values": [{}]},
      "mark": {"type": "rule", "color": "#111111", "strokeWidth": 1.4},
      "encoding": {
        "x": {"datum": 2.516, "type": "quantitative", "axis": null},
        "x2": {"datum": 2.93},
        "y": {"datum": 189.5, "type": "quantitative", "axis": null}
      }
    },
    {
      "data": {"values": [{}]},
      "mark": {"type": "rule", "color": "#111111", "strokeWidth": 1.4},
      "encoding": {
        "x": {"datum": 2.723, "type": "quantitative", "axis": null},
        "y": {"datum": 193.6, "type": "quantitative", "axis": null},
        "y2": {"datum": 185.4}
      }
    },
    {
      "data": {"values": [{}]},
      "mark": {"type": "rule", "color": "#3c6fd6", "strokeWidth": 2.4},
      "encoding": {
        "x": {"datum": 2.516, "type": "quantitative", "axis": null},
        "x2": {"datum": 2.93},
        "y": {"datum": 175.5, "type": "quantitative", "axis": null}
      }
    },
    {
      "data": {"values": [{}]},
      "mark": {"type": "rule", "color": "#3c6fd6", "strokeWidth": 2.4, "strokeDash": [8, 5]},
      "encoding": {
        "x": {"datum": 2.516, "type": "quantitative", "axis": null},
        "x2": {"datum": 2.93},
        "y": {"datum": 162.3, "type": "quantitative", "axis": null}
      }
    },
    {
      "data": {"values": [{}]},
      "mark": {
        "type": "rect", "stroke": "#8a6038", "strokeWidth": 1.2,
        "fill": {
          "gradient": "linear", "x1": 0, "y1": 0, "x2": 1.363, "y2": 0.7138,
          "stops": [
            {"offset": 0, "color": "#8a6038"}, {"offset": 0.03, "color": "#8a6038"}, {"offset": 0.03, "color": "transparent"},
            {"offset": 0.1667, "color": "transparent"}, {"offset": 0.1667, "color": "#8a6038"}, {"offset": 0.1967, "color": "#8a6038"}, {"offset": 0.1967, "color": "transparent"},
            {"offset": 0.3333, "color": "transparent"}, {"offset": 0.3333, "color": "#8a6038"}, {"offset": 0.3633, "color": "#8a6038"}, {"offset": 0.3633, "color": "transparent"},
            {"offset": 0.5, "color": "transparent"}, {"offset": 0.5, "color": "#8a6038"}, {"offset": 0.53, "color": "#8a6038"}, {"offset": 0.53, "color": "transparent"},
            {"offset": 0.6667, "color": "transparent"}, {"offset": 0.6667, "color": "#8a6038"}, {"offset": 0.6967, "color": "#8a6038"}, {"offset": 0.6967, "color": "transparent"},
            {"offset": 0.8333, "color": "transparent"}, {"offset": 0.8333, "color": "#8a6038"}, {"offset": 0.8633, "color": "#8a6038"}, {"offset": 0.8633, "color": "transparent"},
            {"offset": 1, "color": "transparent"}
          ]
        }
      },
      "encoding": {
        "x": {"datum": 2.516, "type": "quantitative", "axis": null},
        "x2": {"datum": 2.93},
        "y": {"datum": 153.3, "type": "quantitative", "axis": null},
        "y2": {"datum": 144.3}
      }
    },
    {
      "data": {"values": [{}]},
      "mark": {
        "type": "rect",
        "fill": {
          "gradient": "linear", "x1": 0, "y1": 0, "x2": 1.363, "y2": 0.7138,
          "stops": [
            {"offset": 0, "color": "#7da36a"}, {"offset": 0.03, "color": "#7da36a"}, {"offset": 0.03, "color": "transparent"},
            {"offset": 0.1667, "color": "transparent"}, {"offset": 0.1667, "color": "#7da36a"}, {"offset": 0.1967, "color": "#7da36a"}, {"offset": 0.1967, "color": "transparent"},
            {"offset": 0.3333, "color": "transparent"}, {"offset": 0.3333, "color": "#7da36a"}, {"offset": 0.3633, "color": "#7da36a"}, {"offset": 0.3633, "color": "transparent"},
            {"offset": 0.5, "color": "transparent"}, {"offset": 0.5, "color": "#7da36a"}, {"offset": 0.53, "color": "#7da36a"}, {"offset": 0.53, "color": "transparent"},
            {"offset": 0.6667, "color": "transparent"}, {"offset": 0.6667, "color": "#7da36a"}, {"offset": 0.6967, "color": "#7da36a"}, {"offset": 0.6967, "color": "transparent"},
            {"offset": 0.8333, "color": "transparent"}, {"offset": 0.8333, "color": "#7da36a"}, {"offset": 0.8633, "color": "#7da36a"}, {"offset": 0.8633, "color": "transparent"},
            {"offset": 1, "color": "transparent"}
          ]
        }
      },
      "encoding": {
        "x": {"datum": 2.516, "type": "quantitative", "axis": null},
        "x2": {"datum": 2.93},
        "y": {"datum": 139.3, "type": "quantitative", "axis": null},
        "y2": {"datum": 130.2}
      }
    },
    {
      "data": {"values": [{}]},
      "mark": {
        "type": "rect", "stroke": "#8c8c8c", "strokeWidth": 1.5,
        "fill": {
          "gradient": "linear", "x1": 0, "y1": 1, "x2": 1.363, "y2": 0.2862,
          "stops": [
            {"offset": 0, "color": "#7da36a"}, {"offset": 0.03, "color": "#7da36a"}, {"offset": 0.03, "color": "transparent"},
            {"offset": 0.1667, "color": "transparent"}, {"offset": 0.1667, "color": "#7da36a"}, {"offset": 0.1967, "color": "#7da36a"}, {"offset": 0.1967, "color": "transparent"},
            {"offset": 0.3333, "color": "transparent"}, {"offset": 0.3333, "color": "#7da36a"}, {"offset": 0.3633, "color": "#7da36a"}, {"offset": 0.3633, "color": "transparent"},
            {"offset": 0.5, "color": "transparent"}, {"offset": 0.5, "color": "#7da36a"}, {"offset": 0.53, "color": "#7da36a"}, {"offset": 0.53, "color": "transparent"},
            {"offset": 0.6667, "color": "transparent"}, {"offset": 0.6667, "color": "#7da36a"}, {"offset": 0.6967, "color": "#7da36a"}, {"offset": 0.6967, "color": "transparent"},
            {"offset": 0.8333, "color": "transparent"}, {"offset": 0.8333, "color": "#7da36a"}, {"offset": 0.8633, "color": "#7da36a"}, {"offset": 0.8633, "color": "transparent"},
            {"offset": 1, "color": "transparent"}
          ]
        }
      },
      "encoding": {
        "x": {"datum": 2.516, "type": "quantitative", "axis": null},
        "x2": {"datum": 2.93},
        "y": {"datum": 139.3, "type": "quantitative", "axis": null},
        "y2": {"datum": 130.2}
      }
    },
    {
      "data": {"values": [{}]},
      "mark": {"type": "rule", "color": "#f01818", "strokeWidth": 3},
      "encoding": {
        "x": {"datum": 2.516, "type": "quantitative", "axis": null},
        "x2": {"datum": 2.93},
        "y": {"datum": 121.2, "type": "quantitative", "axis": null}
      }
    },
    {
      "data": {"values": [{}]},
      "mark": {"type": "text", "text": "Experiment"},
      "encoding": {
        "x": {"datum": 2.995, "type": "quantitative", "axis": null},
        "y": {"datum": 186.8, "type": "quantitative", "axis": null}
      }
    },
    {
      "data": {"values": [{}]},
      "mark": {"type": "text", "text": "E"},
      "encoding": {
        "x": {"datum": 2.995, "type": "quantitative", "axis": null},
        "y": {"datum": 172.9, "type": "quantitative", "axis": null}
      }
    },
    {
      "data": {"values": [{}]},
      "mark": {"type": "text", "text": "x", "fontSize": 19, "dx": 16, "dy": 5},
      "encoding": {
        "x": {"datum": 2.995, "type": "quantitative", "axis": null},
        "y": {"datum": 172.9, "type": "quantitative", "axis": null}
      }
    },
    {
      "data": {"values": [{}]},
      "mark": {"type": "text", "text": "= 4.40 MeV", "dx": 27.5},
      "encoding": {
        "x": {"datum": 2.995, "type": "quantitative", "axis": null},
        "y": {"datum": 172.9, "type": "quantitative", "axis": null}
      }
    },
    {
      "data": {"values": [{}]},
      "mark": {"type": "text", "text": "E"},
      "encoding": {
        "x": {"datum": 2.995, "type": "quantitative", "axis": null},
        "y": {"datum": 159.6, "type": "quantitative", "axis": null}
      }
    },
    {
      "data": {"values": [{}]},
      "mark": {"type": "text", "text": "x", "fontSize": 19, "dx": 16, "dy": 5},
      "encoding": {
        "x": {"datum": 2.995, "type": "quantitative", "axis": null},
        "y": {"datum": 159.6, "type": "quantitative", "axis": null}
      }
    },
    {
      "data": {"values": [{}]},
      "mark": {"type": "text", "text": "= 5.60 MeV", "dx": 27.5},
      "encoding": {
        "x": {"datum": 2.995, "type": "quantitative", "axis": null},
        "y": {"datum": 159.6, "type": "quantitative", "axis": null}
      }
    },
    {
      "data": {"values": [{}]},
      "mark": {"type": "text", "text": "1n-Phase Space"},
      "encoding": {
        "x": {"datum": 2.995, "type": "quantitative", "axis": null},
        "y": {"datum": 146.2, "type": "quantitative", "axis": null}
      }
    },
    {
      "data": {"values": [{}]},
      "mark": {"type": "text", "text": "2n-Phase Space"},
      "encoding": {
        "x": {"datum": 2.995, "type": "quantitative", "axis": null},
        "y": {"datum": 132.6, "type": "quantitative", "axis": null}
      }
    },
    {
      "data": {"values": [{}]},
      "mark": {"type": "text", "text": "Total fit"},
      "encoding": {
        "x": {"datum": 2.995, "type": "quantitative", "axis": null},
        "y": {"datum": 119.0, "type": "quantitative", "axis": null}
      }
    }
  ]
}
